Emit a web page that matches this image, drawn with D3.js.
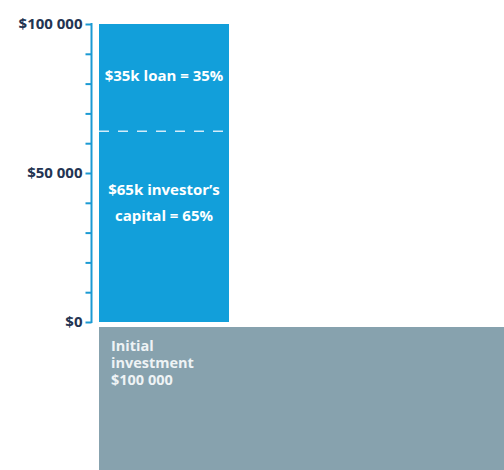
<!DOCTYPE html>
<html>
<head>
<meta charset="utf-8">
<script src="https://cdn.jsdelivr.net/npm/d3@7"></script>
<style>
  body { margin: 0; background: #fff; }
  svg { display: block; }
  text { font-family: "Open Sans", "Liberation Sans", sans-serif; }
</style>
</head>
<body>
<div id="chart"></div>
<script>
// chart data
var tickValues = [0, 10000, 20000, 30000, 40000, 50000, 60000, 70000, 80000, 90000, 100000];
var labelledTicks = [0, 50000, 100000];
var segments = ["investor", "loan"];
var segmentValues = [65000, 35000];
var loanLabel = ["$35k loan = 35%"];
var capitalLabel = ["$65k investor\u2019s", "capital = 65%"];
var baseLabel = ["Initial", "investment", "$100 000"];

var width = 504;
var height = 470;

var svg = d3.select('#chart')
  .append('svg')
  .attr('width', width)
  .attr('height', height);

var y = d3.scaleLinear()
  .domain([0, 100000])
  .range([322, 24]);

var x = d3.scaleBand()
  .domain(['total'])
  .range([99, 229]);

var fmt = function(v) {
  return '$' + d3.format(',')(v).replace(/,/g, ' ');
};

// stacked bar
var stack = [];
var acc = 0;
segmentValues.forEach(function(v, i) {
  stack.push({ key: segments[i], y0: acc, y1: acc + v });
  acc += v;
});

svg.selectAll('rect.seg')
  .data(stack)
  .enter().append('rect')
    .attr('class', 'seg')
    .attr('x', x('total'))
    .attr('width', x.bandwidth())
    .attr('y', d => Math.round(y(d.y1)))
    .attr('height', d => Math.round(y(d.y0)) - Math.round(y(d.y1)))
    .attr('shape-rendering', 'crispEdges')
    .attr('fill', '#129fda');

// dashed split
svg.append('line')
  .attr('x1', x('total'))
  .attr('x2', x('total') + x.bandwidth())
  .attr('y1', y(segmentValues[0]) + 3)
  .attr('y2', y(segmentValues[0]) + 3)
  .attr('stroke', '#d3ecf9')
  .attr('stroke-width', 1.5)
  .attr('stroke-dasharray', '10,9');

// axis
var axis = d3.axisLeft(y)
  .tickValues(tickValues)
  .tickSize(6)
  .tickFormat(d => labelledTicks.indexOf(d) >= 0 ? fmt(d) : '');

var g = svg.append('g')
  .attr('transform', 'translate(91.5,0)')
  .call(axis);

g.select('.domain')
  .attr('stroke', '#1b9ad3')
  .attr('stroke-width', 2)
  .attr('d', 'M0,' + (y(100000) - 1) + 'V' + (y(0) + 1));
g.selectAll('.tick line')
  .attr('stroke', '#1b9ad3')
  .attr('stroke-width', 2);
g.selectAll('.tick text')
  .attr('fill', '#233452')
  .attr('font-size', 15)
  .attr('font-weight', 'bold')
  .attr('x', -9)
  .attr('dy', '0.3em');

// bar labels
var cx = x('total') + x.bandwidth() / 2;
svg.append('text')
  .attr('x', cx)
  .attr('y', y(100000 - segmentValues[1] / 2) + 5)
  .attr('text-anchor', 'middle')
  .attr('fill', '#fff')
  .attr('font-size', 15)
  .attr('font-weight', 'bold')
  .text(loanLabel[0]);

svg.selectAll('text.cap')
  .data(capitalLabel)
  .enter().append('text')
    .attr('class', 'cap')
    .attr('x', cx)
    .attr('y', (d, i) => 195 + i * 26)
    .attr('text-anchor', 'middle')
    .attr('fill', '#fff')
    .attr('font-size', 15)
    .attr('font-weight', 'bold')
    .text(d => d);

// base block
svg.append('rect')
  .attr('x', x('total'))
  .attr('y', 327)
  .attr('width', width - x('total'))
  .attr('height', height - 327)
  .attr('fill', '#87a2ae');

svg.selectAll('text.base')
  .data(baseLabel)
  .enter().append('text')
    .attr('class', 'base')
    .attr('x', 111)
    .attr('y', (d, i) => 351 + i * 17)
    .attr('fill', '#eef3f5')
    .attr('font-size', 14.5)
    .attr('font-weight', 'bold')
    .text(d => d);
</script>
</body>
</html>
